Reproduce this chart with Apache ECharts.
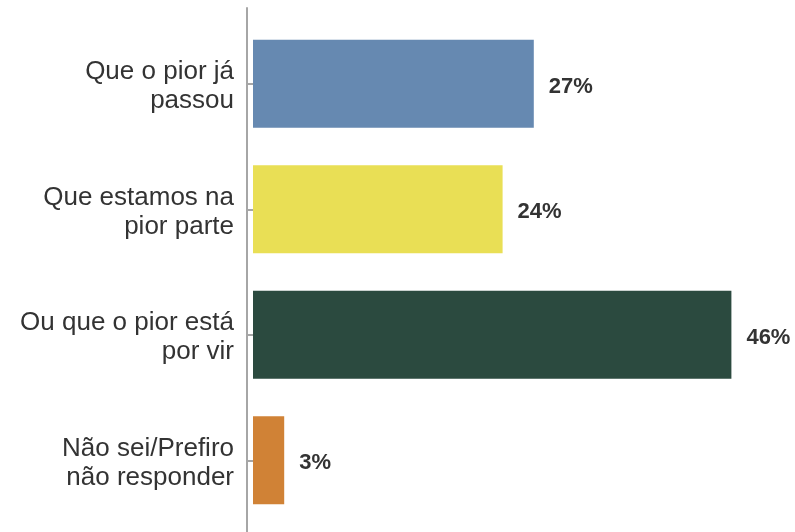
<!DOCTYPE html>
<html>
<head>
<meta charset="utf-8">
<script src="https://cdn.jsdelivr.net/npm/echarts@6/dist/echarts.min.js"></script>
<style>
  html, body { margin: 0; padding: 0; background: #fff; }
  #chart { width: 795px; height: 532px; }
</style>
</head>
<body>
<div id="chart"></div>
<script>
const categories = ['Que o pior já\npassou', 'Que estamos na\npior parte', 'Ou que o pior está\npor vir', 'Não sei/Prefiro\nnão responder']
const values = [27, 24, 46, 3]
const colors = ['#6689b1', '#e9df55', '#2b4a3f', '#d08236']

const chart = echarts.init(document.getElementById('chart'))
const option = {
  animation: false,
  grid: [
    { left: 253, top: 21, width: 520, height: 502 },
    // only used to draw the full-height axis line
    { left: 247, top: 8, width: 520, bottom: -20 }
  ],
  xAxis: [
    { type: 'value', min: 0, max: 50, show: false, gridIndex: 0 },
    { type: 'value', min: 0, max: 50, show: false, gridIndex: 1 }
  ],
  yAxis: [
    {
      type: 'category',
      gridIndex: 0,
      data: categories,
      inverse: true,
      offset: 6,
      axisLine: { show: false },
      axisTick: { show: true, alignWithLabel: true, length: 6, lineStyle: { color: '#a6a6a6', width: 2 } },
      axisLabel: {
        margin: 13,
        align: 'right',
        formatter: v => v.split('\n').map(l => '{t|' + l + '}').join('\n'),
        rich: {
          t: {
            color: '#333333',
            fontFamily: 'Liberation Sans, Arial, sans-serif',
            fontSize: 26,
            lineHeight: 29,
            padding: [6, 0, 0, 0],
            align: 'right'
          }
        }
      }
    },
    {
      type: 'value',
      gridIndex: 1,
      axisLine: { show: true, lineStyle: { color: '#a6a6a6', width: 2 } },
      axisTick: { show: false },
      axisLabel: { show: false },
      splitLine: { show: false }
    }
  ],
  series: [
    {
      type: 'bar',
      xAxisIndex: 0,
      yAxisIndex: 0,
      data: values.map((v, i) => ({ value: v, itemStyle: { color: colors[i] } })),
      barCategoryGap: '30%',
      label: {
        show: true,
        position: 'right',
        distance: 15,
        offset: [0, 3],
        formatter: '{c}%',
        color: '#333333',
        fontFamily: 'Liberation Sans, Arial, sans-serif',
        fontWeight: 'bold',
        fontSize: 22
      }
    }
  ]
}
chart.setOption(option)
</script>
</body>
</html>
